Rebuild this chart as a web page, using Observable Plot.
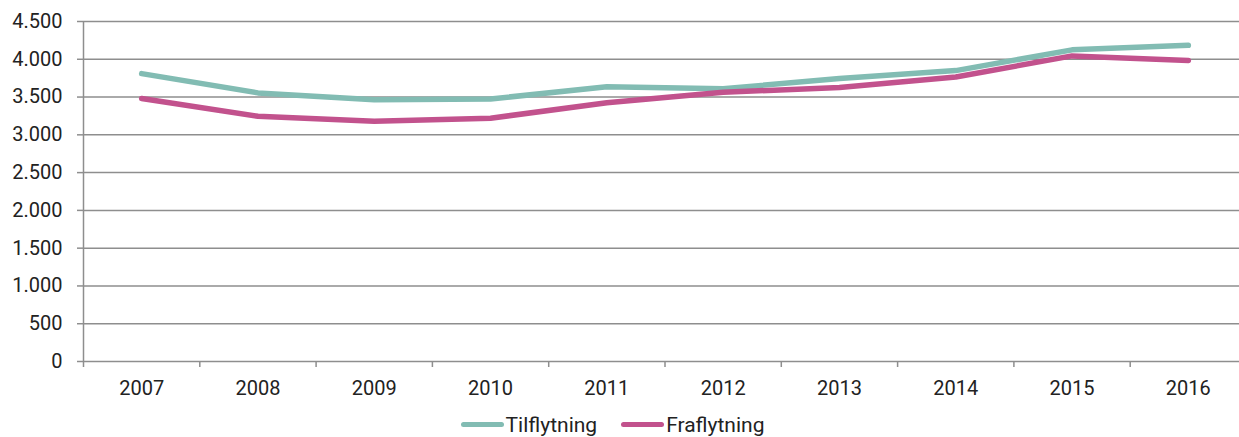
<!DOCTYPE html>
<html>
<head>
<meta charset="utf-8">
<script src="https://cdn.jsdelivr.net/npm/d3@7"></script>
<script src="https://cdn.jsdelivr.net/npm/@observablehq/plot@0.6"></script>
<style>
  html, body { margin: 0; padding: 0; background: #fff; overflow: hidden; }
  #chart svg { display: block; }
  #legend { height: 27px; padding-top: 1px; display: flex; justify-content: center; align-items: center; font-family: Roboto, sans-serif; font-size: 21px; line-height: 24px; color: #222; padding-right: 14px; }
  .item { display: flex; align-items: center; margin: 0 12px; }
  .sw { width: 43px; height: 5.5px; border-radius: 3px; margin-right: 2px; }
</style>
</head>
<body>
<div id="chart"></div>
<div id="legend"></div>
<script>
const years = [2007, 2008, 2009, 2010, 2011, 2012, 2013, 2014, 2015, 2016];
const tilflytning = [3810, 3555, 3465, 3475, 3635, 3610, 3745, 3850, 4125, 4185];
const fraflytning = [3480, 3245, 3180, 3220, 3425, 3565, 3625, 3765, 4045, 3985];
const yTicks = [0, 500, 1000, 1500, 2000, 2500, 3000, 3500, 4000, 4500];
const seriesNames = ["Tilflytning", "Fraflytning"];
const seriesColors = ["#82bcb3", "#c2528d"];

const data = [];
years.forEach((y, i) => {
  data.push({year: y, value: tilflytning[i], series: seriesNames[0]});
  data.push({year: y, value: fraflytning[i], series: seriesNames[1]});
});
const boundaries = years.map(y => y - 0.5).concat([years[years.length - 1] + 0.5]);
const fmt = d => d.toLocaleString("da-DK");

const chart = Plot.plot({
  width: 1239,
  height: 410,
  marginLeft: 83,
  marginRight: 0,
  marginTop: 21,
  marginBottom: 49,
  style: {fontFamily: "Roboto, sans-serif", fontSize: "20px", color: "#222"},
  x: {type: "linear", domain: [2006.5, 2016.5], range: [83, 1246]},
  y: {domain: [0, 4500]},
  color: {domain: seriesNames, range: seriesColors},
  marks: [
    Plot.ruleY(yTicks, {x1: 2006.5, x2: 2016.5, stroke: "#8e8e8e", strokeWidth: 1.5, strokeOpacity: 1}),
    Plot.ruleX([2006.5], {y1: 0, y2: 4500, stroke: "#8e8e8e", strokeWidth: 1.5, strokeOpacity: 1}),
    Plot.axisY({ticks: yTicks, tickFormat: fmt, tickSize: 6, tickPadding: 15, stroke: "#8e8e8e", strokeWidth: 1.5, strokeOpacity: 1, fill: "#222", label: null}),
    Plot.axisX({ticks: boundaries, tickFormat: () => "", tickSize: 6, stroke: "#8e8e8e", strokeWidth: 1.5, strokeOpacity: 1, label: null}),
    Plot.axisX({ticks: years, tickFormat: d => String(d), tickSize: 0, tickPadding: 19, fill: "#222", label: null}),
    Plot.line(data, {x: "year", y: "value", z: "series", stroke: "series", strokeWidth: 5.5, strokeLinecap: "round", strokeLinejoin: "round"})
  ]
});
document.getElementById("chart").appendChild(chart);

const legend = document.getElementById("legend");
seriesNames.forEach((name, i) => {
  const item = document.createElement("div");
  item.className = "item";
  const sw = document.createElement("div");
  sw.className = "sw";
  sw.style.background = seriesColors[i];
  const t = document.createElement("span");
  t.textContent = name;
  item.appendChild(sw);
  item.appendChild(t);
  legend.appendChild(item);
});
</script>
</body>
</html>
